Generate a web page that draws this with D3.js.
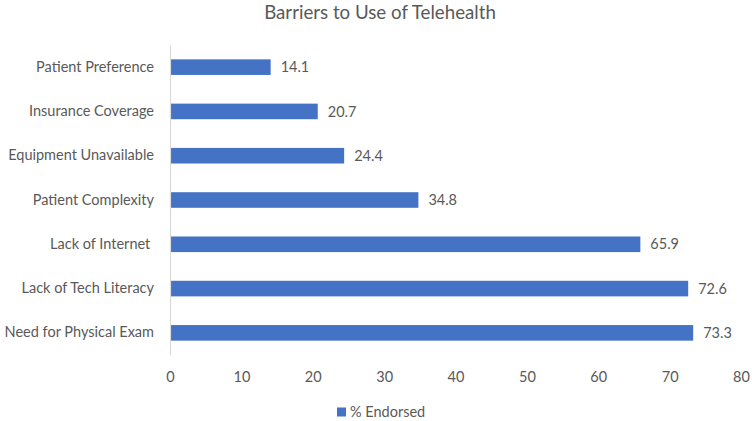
<!DOCTYPE html>
<html>
<head>
<meta charset="utf-8">
<script src="https://cdn.jsdelivr.net/npm/d3@7"></script>
<style>
  html, body { margin: 0; padding: 0; background: #fff; }
  svg text { font-family: Lato, "Open Sans", sans-serif; fill: #595959; }
</style>
</head>
<body>
<svg id="chart" width="752" height="421"></svg>
<script>
const categories = ["Patient Preference", "Insurance Coverage", "Equipment Unavailable", "Patient Complexity", "Lack of Internet ", "Lack of Tech Literacy", "Need for Physical Exam"];
const values = [14.1, 20.7, 24.4, 34.8, 65.9, 72.6, 73.3];
const xTicks = [0, 10, 20, 30, 40, 50, 60, 70, 80];
const seriesName = "% Endorsed";
const title = "Barriers to Use of Telehealth";

const svg = d3.select("#chart");
const W = 752, H = 421;
const plot = { left: 170, right: 741, top: 45, bottom: 355 };

const x = d3.scaleLinear().domain([0, 80]).range([plot.left, plot.right]);
const y = d3.scaleBand().domain(categories).range([plot.top, plot.bottom]).paddingInner(0.648).paddingOuter(0.324);

svg.append("rect").attr("width", W).attr("height", H).attr("fill", "#fff");

svg.append("text").attr("x", 380).attr("y", 19).attr("text-anchor", "middle")
  .style("font-size", "18.7px").text(title);

// bars
svg.append("g").selectAll("rect").data(categories).join("rect")
  .attr("x", x(0)).attr("y", d => y(d))
  .attr("width", (d, i) => x(values[i]) - x(0))
  .attr("height", y.bandwidth())
  .attr("fill", "#4472C4");

// value labels
svg.append("g").selectAll("text").data(categories).join("text")
  .attr("x", (d, i) => x(values[i]) + 10)
  .attr("y", d => y(d) + y.bandwidth() / 2)
  .attr("dy", "0.35em")
  .style("font-size", "14.5px")
  .text((d, i) => values[i].toFixed(1));

// y axis (category)
const yAxis = svg.append("g").attr("transform", `translate(${plot.left},0)`)
  .call(d3.axisLeft(y).tickSize(0).tickPadding(16));
yAxis.select(".domain").attr("stroke", "#d9d9d9").attr("stroke-width", 1.2);
yAxis.selectAll("text").style("font-size", "14.5px").style("font-family", "Lato, sans-serif")
  .attr("fill", "#595959").style("white-space", "pre");

// x axis
const xAxis = svg.append("g").attr("transform", `translate(0,${plot.bottom})`)
  .call(d3.axisBottom(x).tickValues(xTicks).tickSize(0).tickPadding(17));
xAxis.select(".domain").remove();
xAxis.selectAll("text").style("font-size", "14.5px").style("font-family", "Lato, sans-serif").attr("fill", "#595959");

// legend
const lg = svg.append("g").attr("transform", "translate(337,412)");
lg.append("rect").attr("x", 0).attr("y", -4.5).attr("width", 9).attr("height", 9).attr("fill", "#4472C4");
lg.append("text").attr("x", 13).attr("y", 0).attr("dy", "0.35em").style("font-size", "14.5px").text(seriesName);
</script>
</body>
</html>
